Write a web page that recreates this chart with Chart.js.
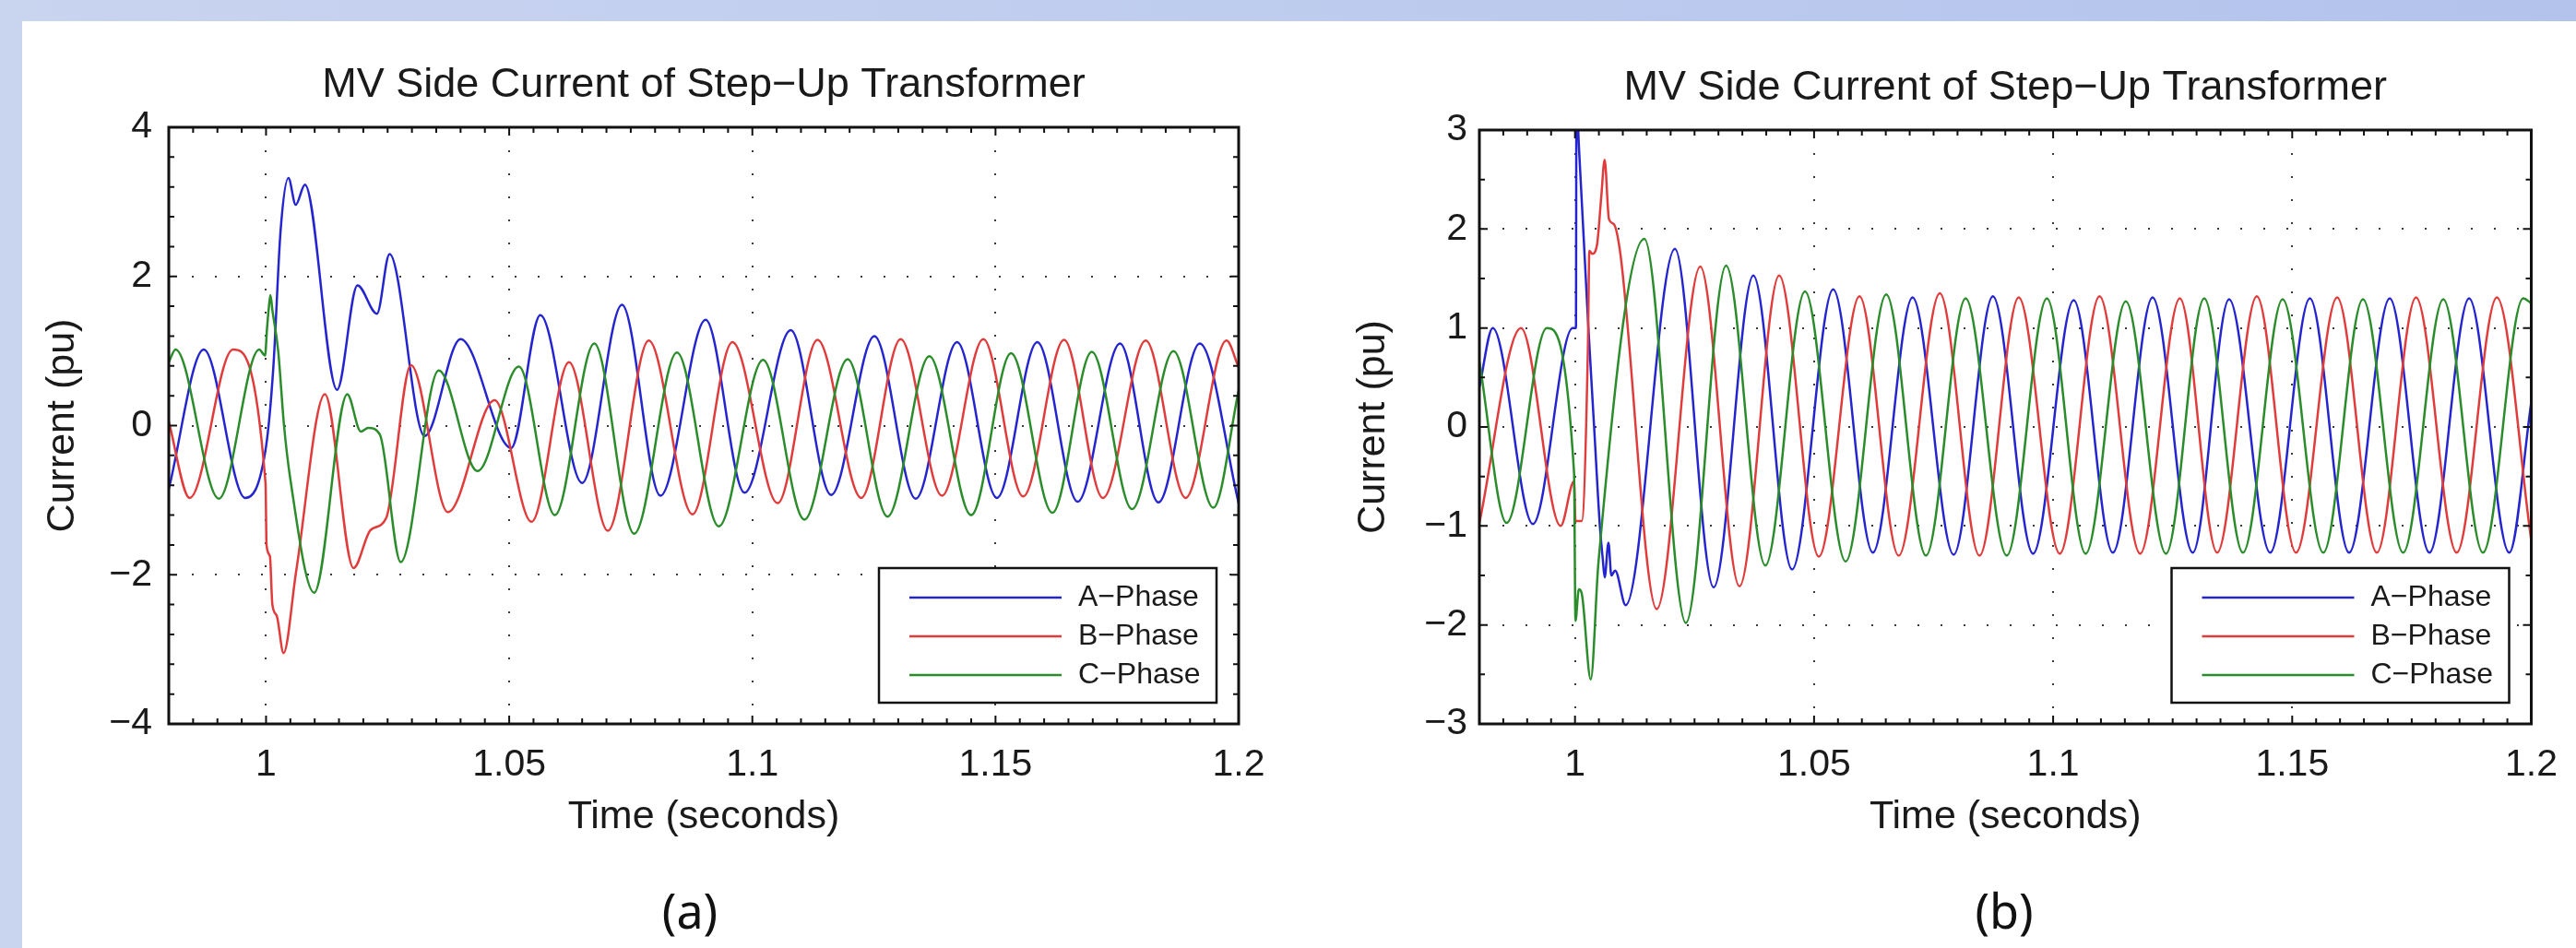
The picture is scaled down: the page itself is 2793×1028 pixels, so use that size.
<!DOCTYPE html>
<html>
<head>
<meta charset="utf-8">
<script src="https://cdn.jsdelivr.net/npm/chart.js@4.4.1/dist/chart.umd.min.js"></script>
<style>
  html, body { margin: 0; padding: 0; }
  body {
    width: 2793px; height: 1028px; position: relative; overflow: hidden;
    background: linear-gradient(90deg, #c9d4ef 0%, #bccaee 60%, #b3c3ec 100%);
  }
  #sheet { position: absolute; left: 24px; top: 23px; width: 2769px; height: 1005px; background: #fff; }
  canvas { position: absolute; top: 0; }
  .caption {
    position: absolute; width: 200px; text-align: center; top: 929px;
    font-family: 'Noto Sans', 'Open Sans', sans-serif; font-size: 52px; line-height: 70px; color: #111;
  }
</style>
</head>
<body>
<div id="sheet">
  <canvas id="chartA" width="1380" height="1005" style="left:0"></canvas>
  <canvas id="chartB" width="1389" height="1005" style="left:1380px"></canvas>
  <div class="caption" style="left:624px">(a)</div>
  <div class="caption" style="left:2049px">(b)</div>
</div>
<script>
// MV side current of the step-up transformer, two cases (a) and (b)
// Values: peaks, troughs and the fault transients

const xTicks = [1, 1.05, 1.1, 1.15, 1.2];
const yTicksA = [-4, -2, 0, 2, 4];
const yTicksB = [-3, -2, -1, 0, 1, 2, 3];
const phaseLabels = ['A\u2212Phase', 'B\u2212Phase', 'C\u2212Phase'];
const phaseColors = ['#2525d0', '#e03c3c', '#2a8c2a'];

// ---- panel (a) ----
const tA_a = [0.9800, 0.9872, 0.9957, 1.0000, 1.0015, 1.0030, 1.0046, 1.0061, 1.0080, 1.0146,
  1.0188, 1.0228, 1.0254, 1.0326, 1.0400, 1.0504, 1.0564, 1.0650, 1.0732, 1.0811,
  1.0904, 1.0984, 1.1079, 1.1162, 1.1251, 1.1336, 1.1421, 1.1503, 1.1586, 1.1669,
  1.1756, 1.1835, 1.1920, 1.2000];
const iA_a = [-0.85, 1.02, -0.97, -0.28, 0.78, 2.62, 3.32, 2.96, 3.23, 0.48,
  1.88, 1.50, 2.30, -0.14, 1.16, -0.30, 1.48, -0.77, 1.62, -0.94,
  1.42, -0.90, 1.28, -0.93, 1.20, -0.98, 1.12, -0.97, 1.12, -1.02,
  1.10, -1.03, 1.10, -1.04];

const tB_a = [0.9800, 0.9843, 0.9932, 0.9999, 1.0001, 1.0008, 1.0013, 1.0022, 1.0036, 1.0062,
  1.0121, 1.0180, 1.0215, 1.0247, 1.0298, 1.0374, 1.0470, 1.0546, 1.0623, 1.0703,
  1.0787, 1.0877, 1.0959, 1.1052, 1.1134, 1.1224, 1.1305, 1.1390, 1.1475, 1.1557,
  1.1641, 1.1721, 1.1809, 1.1891, 1.1975, 1.2000];
const iB_a = [0.05, -0.97, 1.02, -0.78, -1.60, -1.75, -2.40, -2.55, -3.05, -1.95,
  0.42, -1.91, -1.40, -1.24, 0.81, -1.16, 0.34, -1.29, 0.85, -1.41,
  1.14, -1.19, 1.12, -1.04, 1.15, -0.97, 1.16, -0.94, 1.16, -0.95,
  1.15, -0.97, 1.14, -0.97, 1.14, 0.78];

const tC_a = [0.9800, 0.9814, 0.9903, 0.9986, 0.9998, 1.0002, 1.0006, 1.0009, 1.0013, 1.0025,
  1.0037, 1.0050, 1.0099, 1.0167, 1.0195, 1.0210, 1.0234, 1.0277, 1.0355, 1.0435,
  1.0520, 1.0594, 1.0675, 1.0757, 1.0845, 1.0931, 1.1022, 1.1107, 1.1196, 1.1278,
  1.1364, 1.1450, 1.1532, 1.1617, 1.1698, 1.1781, 1.1866, 1.1948, 1.2000];
const iC_a = [0.85, 1.02, -0.98, 1.02, 0.94, 1.30, 1.60, 1.75, 1.55, 1.00,
  0.00, -0.72, -2.24, 0.42, -0.08, -0.03, -0.12, -1.83, 0.74, -0.61,
  0.79, -1.20, 1.10, -1.45, 0.98, -1.35, 0.88, -1.26, 0.89, -1.22,
  0.93, -1.20, 0.97, -1.17, 0.99, -1.12, 1.00, -1.10, 0.47];

// ---- panel (b) ----
const tA_b = [0.9800, 0.9828, 0.9912, 0.9995, 1.0002, 1.0003, 1.0008, 1.0028, 1.0040, 1.0052,
  1.0058, 1.0062, 1.0070, 1.0076, 1.0084, 1.0106, 1.0209, 1.0290, 1.0373, 1.0454,
  1.0540, 1.0623, 1.0706, 1.0792, 1.0874, 1.0958, 1.1043, 1.1125, 1.1208, 1.1292,
  1.1368, 1.1454, 1.1537, 1.1619, 1.1704, 1.1787, 1.1870, 1.1954, 1.2000];
const iA_b = [0.40, 1.00, -0.98, 1.00, 1.00, 3.40, 2.85, 1.00, 0.00, -1.00,
  -1.33, -1.52, -1.17, -1.50, -1.45, -1.80, 1.80, -1.62, 1.53, -1.44,
  1.39, -1.27, 1.31, -1.29, 1.32, -1.28, 1.28, -1.27, 1.31, -1.27,
  1.29, -1.27, 1.30, -1.27, 1.30, -1.27, 1.30, -1.27, 0.25];

const tB_b = [0.9800, 0.9887, 0.9970, 0.9998, 1.0001, 1.0014, 1.0027, 1.0030, 1.0036, 1.0046,
  1.0055, 1.0062, 1.0071, 1.0081, 1.0094, 1.0171, 1.0262, 1.0344, 1.0427, 1.0510,
  1.0595, 1.0677, 1.0763, 1.0846, 1.0928, 1.1014, 1.1097, 1.1182, 1.1265, 1.1343,
  1.1426, 1.1508, 1.1594, 1.1677, 1.1759, 1.1844, 1.1928, 1.2000];
const iB_b = [-0.97, 1.00, -1.00, -0.55, -0.95, -0.95, 0.80, 1.78, 1.75, 1.84,
  2.33, 2.70, 2.10, 2.05, 1.78, -1.84, 1.62, -1.61, 1.53, -1.31,
  1.32, -1.30, 1.35, -1.30, 1.31, -1.28, 1.32, -1.28, 1.30, -1.27,
  1.32, -1.27, 1.31, -1.27, 1.31, -1.27, 1.31, -1.15];

const tC_b = [0.9800, 0.9857, 0.9941, 0.9998, 1.0001, 1.0008, 1.0014, 1.0033, 1.0049, 1.0145,
  1.0232, 1.0316, 1.0398, 1.0481, 1.0566, 1.0651, 1.0734, 1.0817, 1.0903, 1.0987,
  1.1068, 1.1152, 1.1236, 1.1316, 1.1397, 1.1480, 1.1565, 1.1648, 1.1732, 1.1816,
  1.1899, 1.1983, 1.2000];
const iC_b = [0.66, -0.97, 1.00, -0.46, -1.96, -1.64, -1.68, -2.55, -1.37, 1.90,
  -1.98, 1.63, -1.40, 1.37, -1.36, 1.34, -1.30, 1.30, -1.30, 1.30,
  -1.28, 1.27, -1.28, 1.30, -1.27, 1.29, -1.27, 1.29, -1.27, 1.29,
  -1.27, 1.30, 1.25];

const FONT = "'Liberation Sans', Arial, Helvetica, sans-serif";
const TEXT = '#1a1a1a';

function pairs(ts, vs) {
    return ts.map((t, i) => ({ x: t, y: vs[i] }));
}

// MATLAB-like box with inward ticks on all four sides
const frameBox = {
    id: 'frameBox',
    afterDatasetsDraw(chart, args, opts) {
        const { ctx, chartArea: a } = chart;
        const xs = chart.scales.x, ys = chart.scales.y;
        ctx.save();
        ctx.strokeStyle = '#111';
        ctx.lineWidth = 2;
        const isMajor = (v, list) => list.some(m => Math.abs(m - v) < 1e-7);
        for (let v = Math.ceil(xs.min / opts.xStep - 1e-6) * opts.xStep; v <= xs.max + 1e-9; v += opts.xStep) {
            const px = xs.getPixelForValue(v);
            if (px < a.left + 2 || px > a.right - 2) continue;
            const len = isMajor(+v.toFixed(4), xTicks) ? 9 : 6;
            ctx.beginPath();
            ctx.moveTo(px, a.top); ctx.lineTo(px, a.top + len);
            ctx.moveTo(px, a.bottom); ctx.lineTo(px, a.bottom - len);
            ctx.stroke();
        }
        for (let v = Math.ceil(ys.min / opts.yStep - 1e-6) * opts.yStep; v <= ys.max + 1e-9; v += opts.yStep) {
            const py = ys.getPixelForValue(v);
            if (py < a.top + 2 || py > a.bottom - 2) continue;
            const len = isMajor(+v.toFixed(4), opts.yMajor) ? 9 : 6;
            ctx.beginPath();
            ctx.moveTo(a.left, py); ctx.lineTo(a.left + len, py);
            ctx.moveTo(a.right, py); ctx.lineTo(a.right - len, py);
            ctx.stroke();
        }
        ctx.lineWidth = 3;
        ctx.strokeRect(a.left, a.top, a.right - a.left, a.bottom - a.top);
        ctx.restore();
    },
    afterDraw(chart) {
        // legend box in the lower right corner of the axes
        const { ctx, chartArea: a } = chart;
        const w = 366, h = 146;
        const x0 = a.right - 24 - w, y0 = a.bottom - 23 - h;
        ctx.save();
        ctx.fillStyle = '#fff';
        ctx.fillRect(x0, y0, w, h);
        ctx.strokeStyle = '#111';
        ctx.lineWidth = 2.5;
        ctx.strokeRect(x0, y0, w, h);
        ctx.font = '32px ' + FONT;
        ctx.textBaseline = 'middle';
        ctx.textAlign = 'left';
        chart.data.datasets.forEach((ds, i) => {
            const y = y0 + 32 + i * 42;
            ctx.strokeStyle = ds.borderColor;
            ctx.lineWidth = 2.5;
            ctx.beginPath();
            ctx.moveTo(x0 + 33, y);
            ctx.lineTo(x0 + 198, y);
            ctx.stroke();
            ctx.fillStyle = TEXT;
            ctx.fillText(ds.label, x0 + 216, y);
        });
        ctx.restore();
    }
};

function makeChart(canvasId, series, yTicks, yStep, box) {
    const datasets = series.map((s, i) => ({
        label: phaseLabels[i],
        data: pairs(s[0], s[1]),
        borderColor: phaseColors[i],
        borderWidth: 2.5,
        pointRadius: 0,
        fill: false,
        cubicInterpolationMode: 'monotone',
        order: 2 - i
    }));
    return new Chart(document.getElementById(canvasId), {
        type: 'line',
        data: { datasets },
        options: {
            responsive: false,
            animation: false,
            devicePixelRatio: 1,
            layout: {
                autoPadding: false,
                padding: { left: box.padLeft, right: box.padRight, top: 0, bottom: 116 }
            },
            plugins: {
                legend: { display: false },
                tooltip: { enabled: false },
                title: {
                    display: true,
                    fullSize: false,
                    text: 'MV Side Current of Step\u2212Up Transformer',
                    color: TEXT,
                    font: { family: FONT, size: 45, weight: 'normal', lineHeight: 1.2 },
                    padding: { top: box.titleTop, bottom: 18 }
                },
                frameBox: { xStep: 0.005, yStep: yStep, yMajor: yTicks }
            },
            scales: {
                x: {
                    type: 'linear',
                    min: 0.98,
                    max: 1.2,
                    afterBuildTicks: scale => { scale.ticks = xTicks.map(v => ({ value: v })); },
                    afterFit: scale => { scale.height = 127; },
                    grid: { color: '#3a3a3a', lineWidth: 2, drawTicks: false },
                    border: { display: false, dash: [2, 23] },
                    ticks: {
                        padding: 20,
                        color: TEXT,
                        maxRotation: 0,
                        autoSkip: false,
                        font: { family: FONT, size: 41 },
                        callback: v => String(v)
                    },
                    title: {
                        display: true,
                        text: 'Time (seconds)',
                        color: TEXT,
                        padding: 0,
                        font: { family: FONT, size: 43, lineHeight: 1.2 }
                    }
                },
                y: {
                    min: yTicks[0],
                    max: yTicks[yTicks.length - 1],
                    afterBuildTicks: scale => { scale.ticks = yTicks.map(v => ({ value: v })); },
                    afterFit: scale => { scale.width = box.yWidth; },
                    grid: { color: '#3a3a3a', lineWidth: 2, drawTicks: false },
                    border: { display: false, dash: [2, 23] },
                    ticks: {
                        padding: box.tickPad,
                        color: TEXT,
                        font: { family: FONT, size: 41 },
                        callback: v => String(v).replace('-', '\u2212')
                    },
                    title: {
                        display: true,
                        text: 'Current (pu)',
                        color: TEXT,
                        padding: 0,
                        font: { family: FONT, size: 43, lineHeight: 1.2 }
                    }
                }
            }
        },
        plugins: [frameBox]
    });
}

makeChart('chartA', [[tA_a, iA_a], [tB_a, iB_a], [tC_a, iC_a]], yTicksA, 0.4,
    { padLeft: 18, padRight: 61, yWidth: 141, tickPad: 18, titleTop: 43 });
makeChart('chartB', [[tA_b, iA_b], [tB_b, iB_b], [tC_b, iC_b]], yTicksB, 0.5,
    { padLeft: 59, padRight: 31, yWidth: 141, tickPad: 13, titleTop: 46 });
</script>
</body>
</html>
